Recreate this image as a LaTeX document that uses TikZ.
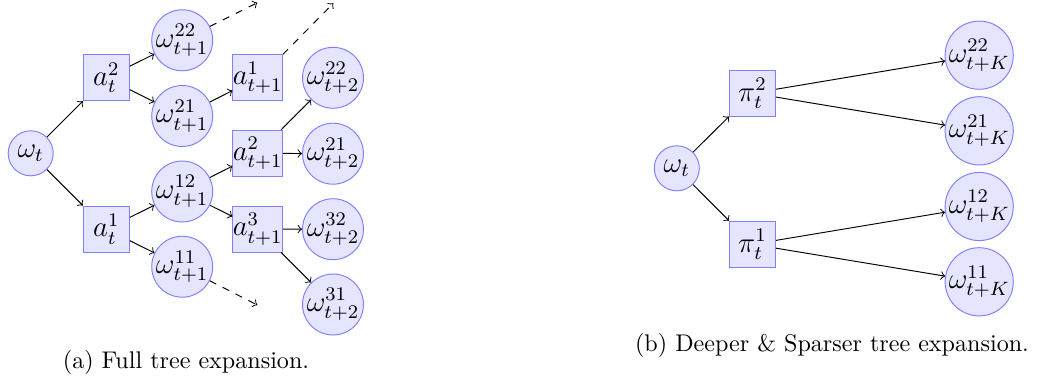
\documentclass[tikz,border=0pt]{standalone}
\usetikzlibrary{arrows}
\begin{document}
\begin{tikzpicture}[x=0.415pt,y=-0.415pt,
  nd/.style={draw=blue!50,fill=blue!10,font=\large},
  st/.style={nd,circle,inner sep=-1pt,minimum size=18.7pt},
  stb/.style={nd,circle,inner sep=-1pt,minimum size=25.3pt},
  stk/.style={nd,circle,inner sep=-1pt,minimum size=28.3pt},
  act/.style={nd,rectangle,inner sep=0pt,minimum size=19.1pt},
  edge/.style={->,black,thin},
  dedge/.style={->,black,thin,dashed}]
\useasboundingbox (0,0) rectangle (1037,381);
% (a)
\node[st] (w) at (30.7,153.3) {$\omega_t$};
\node[act] (a2) at (106.3,77.8) {$a_t^2$};
\node[act] (a1) at (106.3,229) {$a_t^1$};
\node[stb] (w22) at (182.2,40.3) {$\omega_{t+1}^{22}$};
\node[stb] (w21) at (182.2,116) {$\omega_{t+1}^{21}$};
\node[stb] (w12) at (182.2,191.5) {$\omega_{t+1}^{12}$};
\node[stb] (w11) at (182.2,266.7) {$\omega_{t+1}^{11}$};
\node[act] (b1) at (257.7,77.8) {$a_{t+1}^1$};
\node[act] (b2) at (257.7,153.3) {$a_{t+1}^2$};
\node[act] (b3) at (257.7,229) {$a_{t+1}^3$};
\node[stb] (v22) at (333,77.8) {$\omega_{t+2}^{22}$};
\node[stb] (v21) at (333,153.7) {$\omega_{t+2}^{21}$};
\node[stb] (v32) at (333,229.2) {$\omega_{t+2}^{32}$};
\node[stb] (v31) at (333,304.5) {$\omega_{t+2}^{31}$};
\coordinate (d1) at (257.3,2.7);
\coordinate (d2) at (333.3,3.3);
\coordinate (d3) at (257.3,305);
\draw[edge] (w) -- (a2);
\draw[edge] (w) -- (a1);
\draw[edge] (a2) -- (w22);
\draw[edge] (a2) -- (w21);
\draw[edge] (a1) -- (w12);
\draw[edge] (a1) -- (w11);
\draw[dedge] (w22) -- (d1);
\draw[edge] (w21) -- (b1);
\draw[dedge] (b1.north east) -- (d2);
\draw[edge] (w12) -- (b2);
\draw[edge] (w12) -- (b3);
\draw[dedge] (w11) -- (d3);
\draw[edge] (b2) -- (v22);
\draw[edge] (b2) -- (v21);
\draw[edge] (b3) -- (v32);
\draw[edge] (b3) -- (v31);
\node[anchor=base] (capa) at (186,369) {(a) Full tree expansion.};
% (b)
\node[st] (u) at (676.8,168.3) {$\omega_t$};
\node[act] (p2) at (752.5,93.2) {$\pi_t^2$};
\node[act] (p1) at (752.5,244.3) {$\pi_t^1$};
\node[stk] (k22) at (979.2,55.2) {$\omega_{t+K}^{22}$};
\node[stk] (k21) at (979.2,130.8) {$\omega_{t+K}^{21}$};
\node[stk] (k12) at (979.2,206.5) {$\omega_{t+K}^{12}$};
\node[stk] (k11) at (979.2,281.8) {$\omega_{t+K}^{11}$};
\draw[edge] (u) -- (p2);
\draw[edge] (u) -- (p1);
\draw[edge] (p2) -- (k22);
\draw[edge] (p2) -- (k21);
\draw[edge] (p1) -- (k12);
\draw[edge] (p1) -- (k11);
\node[anchor=base] (capb) at (832,351.7) {(b) Deeper \& Sparser tree expansion.};
\end{tikzpicture}
\end{document}
